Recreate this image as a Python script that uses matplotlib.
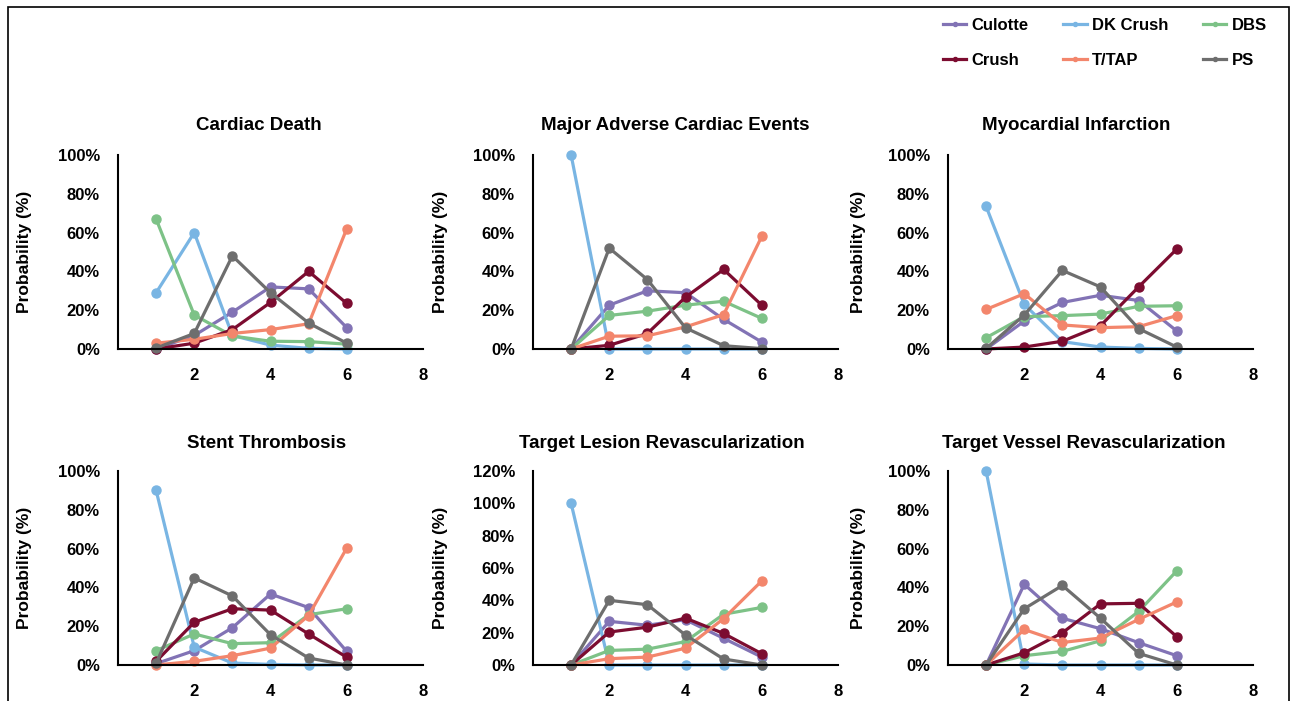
import matplotlib.pyplot as plt
from matplotlib.patches import Rectangle
from matplotlib.ticker import PercentFormatter

plt.rcParams['font.family'] = ['Liberation Sans', 'DejaVu Sans']
plt.rcParams['font.weight'] = 'bold'

ranks = [1, 2, 3, 4, 5, 6]
series_names = ["Culotte", "DK Crush", "DBS", "Crush", "T/TAP", "PS"]
series_colors = ["#8273B5", "#79B5E3", "#7DC287", "#7C0C30", "#F3866C", "#6E6E6E"]

titles = [
    "Cardiac Death", "Major Adverse Cardiac Events", "Myocardial Infarction",
    "Stent Thrombosis", "Target Lesion Revascularization", "Target Vessel Revascularization",
]

# probabilities (%) per rank
cardiac_death = {
    "Culotte":  [0, 7, 19, 32, 31, 11],
    "DK Crush": [29, 60, 7, 2, 0.3, 0],
    "DBS":      [67, 17.5, 6.7, 4, 3.8, 2.5],
    "Crush":    [0, 3, 10, 24, 40, 23.5],
    "T/TAP":    [3, 5, 8, 10, 13, 62],
    "PS":       [0.5, 8, 48, 29, 13.4, 3],
}
mace = {
    "Culotte":  [0, 22.6, 30, 29, 15.3, 3.6],
    "DK Crush": [100, 0, 0, 0, 0, 0],
    "DBS":      [0, 17.3, 19.5, 22.6, 24.6, 15.8],
    "Crush":    [0, 1.9, 8, 26.7, 41, 22.6],
    "T/TAP":    [0, 6.6, 6.8, 11.4, 17.7, 58],
    "PS":       [0, 52, 35.8, 10.9, 1.7, 0.2],
}
mi = {
    "Culotte":  [0, 14.4, 24, 27.7, 25, 9.3],
    "DK Crush": [73.5, 23, 3.8, 1, 0.3, 0],
    "DBS":      [5.8, 16.7, 17.2, 18, 22, 22.3],
    "Crush":    [0, 1, 4, 12, 32, 51.5],
    "T/TAP":    [20.4, 28.5, 12.4, 11, 11.5, 17.2],
    "PS":       [0.3, 17.5, 40.5, 32, 10.5, 1],
}
stent_thrombosis = {
    "Culotte":  [0.7, 7.4, 19.2, 36.6, 29.6, 7],
    "DK Crush": [90, 9.2, 1, 0.3, 0, 0],
    "DBS":      [7.4, 16, 11, 11.5, 25.9, 29],
    "Crush":    [1.9, 22, 29, 28.3, 16, 4],
    "T/TAP":    [0, 1.9, 4.8, 8.7, 25.5, 60.3],
    "PS":       [0.9, 44.9, 35.6, 15.6, 3.6, 0],
}
tlr = {
    "Culotte":  [0, 27, 24.6, 28, 16.5, 4.9],
    "DK Crush": [100, 0, 0, 0, 0, 0],
    "DBS":      [0, 9, 9.8, 14.5, 31.4, 35.6],
    "Crush":    [0, 20.4, 23.4, 29, 19.5, 7],
    "T/TAP":    [0, 3.9, 4.9, 10.4, 28.7, 52],
    "PS":       [0, 40, 37.3, 18.5, 3.7, 0],
}
tvr = {
    "Culotte":  [0, 41.6, 24.1, 18.7, 11.5, 4.8],
    "DK Crush": [100, 0.5, 0, 0, 0, 0],
    "DBS":      [0, 4.8, 7, 12.5, 27.6, 48.5],
    "Crush":    [0, 6.3, 16.6, 31.5, 31.8, 14.6],
    "T/TAP":    [0, 18.3, 11.6, 13.9, 23.5, 32.5],
    "PS":       [0, 29, 41, 24.1, 6, 0],
}
panels = [cardiac_death, mace, mi, stent_thrombosis, tlr, tvr]
y_max = [100, 100, 100, 100, 120, 100]

fig = plt.figure(figsize=(12.91, 7.01), dpi=100)

# moldura do gráfico
fig.patches.append(Rectangle((8 / 1291, -0.02), 1281 / 1291, 1.02 - 7 / 701,
                             transform=fig.transFigure, fill=False,
                             edgecolor="black", linewidth=1.2))

lefts = [118, 533, 948]
ylabel_x = [32, 448, 866]
rows = [(155, 349), (471, 665)]
title_x = [259, 675, 1076, 267, 662, 1084]
title_y = [126, 443]

for i, data in enumerate(panels):
    r, c = divmod(i, 3)
    top, bottom = rows[r]
    ax = fig.add_axes([lefts[c] / 1291, 1 - bottom / 701, 305 / 1291, (bottom - top) / 701])
    for name, color in zip(series_names, series_colors):
        ax.plot(ranks, data[name], color=color, linewidth=2.3, marker="o",
                markersize=6.5, clip_on=False, label=name)
    ax.set_xlim(0, 8)
    ax.set_ylim(0, y_max[i])
    ax.set_xticks([2, 4, 6, 8])
    ax.set_yticks(range(0, y_max[i] + 1, 20))
    ax.yaxis.set_major_formatter(PercentFormatter(decimals=0))
    ax.tick_params(length=0, labelsize=12)
    ax.tick_params(axis="x", pad=14)
    ax.tick_params(axis="y", pad=13)
    for s in ["top", "right"]:
        ax.spines[s].set_visible(False)
    for s in ["left", "bottom"]:
        ax.spines[s].set_linewidth(1.5)
    ax.set_ylabel("Probability (%)", fontsize=12.5, fontweight="bold")
    ax.yaxis.set_label_coords((ylabel_x[c] - lefts[c]) / 305, 0.5)
    fig.text(title_x[i] / 1291, 1 - title_y[r] / 701, titles[i],
             ha="center", va="center", fontsize=13.5, fontweight="bold")

# legenda: Excel preenche por linha, matplotlib por coluna
handles, labels = ax.get_legend_handles_labels()
order = [0, 3, 1, 4, 2, 5]
fig.legend([handles[k] for k in order], [labels[k] for k in order],
           ncol=3, loc="upper left", bbox_to_anchor=(928 / 1291, 1 - 3 / 701),
           frameon=False, fontsize=12, markerscale=0.45, handlelength=1.4,
           handletextpad=0.3, columnspacing=2.1, labelspacing=1.2)

fig.savefig("out.png", dpi=100)
